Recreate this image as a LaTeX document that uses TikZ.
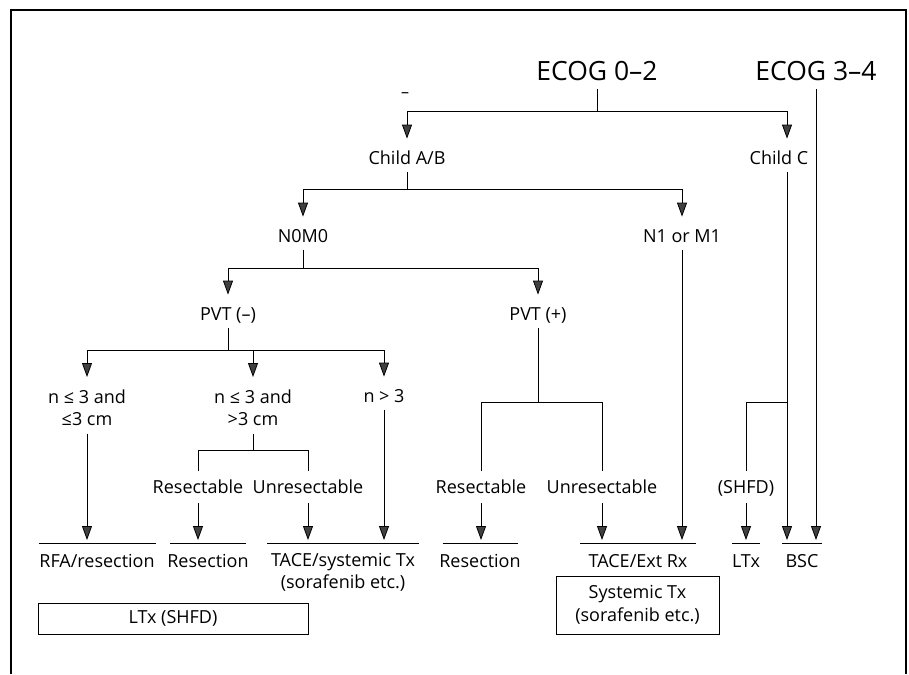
\documentclass[tikz,border=0pt]{standalone}
\usepackage{fontspec}
\setmainfont{Open Sans}
\usetikzlibrary{arrows.meta}
\definecolor{tipgray}{gray}{0.25}
\begin{document}
\begin{tikzpicture}[x=1pt,y=-1pt,
  line width=0.8pt,
  lbl/.style={anchor=base, inner xsep=1pt, inner ysep=0pt,
    text height=13pt, text depth=4pt, font=\fontsize{18}{22}\selectfont},
  twoline/.style={anchor=north, inner sep=0pt, align=center,
    font=\fontsize{18}{22}\selectfont},
  big/.style={anchor=base, inner sep=0pt, text height=18pt, text depth=4pt,
    font=\fontsize{26.5}{31}\selectfont},
  outcome/.style={anchor=north, inner xsep=0pt, inner ysep=11pt,
    text height=13pt, text depth=4pt, font=\fontsize{18}{22}\selectfont},
  outcome2/.style={anchor=north, inner xsep=0pt, inner ysep=9.5pt, align=center,
    font=\fontsize{18}{22.5}\selectfont},
  boxed/.style={draw, inner sep=0pt, align=center, font=\fontsize{18}{23.5}\selectfont},
  tip/.style={-{Triangle[length=14pt,width=10pt,fill=tipgray]}},
  arr/.style={tip, shorten >=12pt},
  arrout/.style={tip, shorten <=4pt, shorten >=3pt},
  stem/.style={shorten <=4pt},
  drop/.style={shorten >=9pt},
  uline/.style={line width=0.8pt},
  frame/.style={line width=1.3pt}
]
\useasboundingbox (0,0) rectangle (909,674);

% outer frame, open at the bottom
\draw[frame] (11,674) -- (11,10) -- (906,10) -- (906,674);

% performance status
\node[big] (e02) at (597,81) {ECOG 0–2};
\node[big] (e34) at (816,81) {ECOG 3–4};
\node[inner sep=0pt, font=\fontsize{16}{18}\selectfont] (dash) at (405,95) {–};

% liver function and spread
\node[lbl] (cab)  at (407,164) {Child A/B};
\node[lbl] (cc)   at (779,164) {Child C};
\node[lbl] (n0m0) at (303,242) {N0M0};
\node[lbl] (n1m1) at (682,242) {N1 or M1};
\node[lbl] (pvtm) at (228,320) {PVT (–)};
\node[lbl] (pvtp) at (538,320) {PVT (+)};

% tumour burden
\node[twoline] (s1) at (87,389)  {n ≤ 3 and\\≤3 cm};
\node[twoline] (s2) at (253,389) {n ≤ 3 and\\>3 cm};
\node[lbl]     (s3) at (384,402) {n > 3};

% resectability
\node[lbl] (res1)   at (198,493) {Resectable};
\node[lbl] (unres1) at (308,493) {Unresectable};
\node[lbl] (res2)   at (481,493) {Resectable};
\node[lbl] (unres2) at (602,493) {Unresectable};
\node[lbl] (shfd)   at (746,493) {(SHFD)};

% treatments
\node[outcome]  (rfa)    at (97,543)  {RFA/resection};
\node[outcome]  (resec1) at (208,543) {Resection};
\node[outcome2] (tace1)  at (343,543) {TACE/systemic Tx\\(sorafenib etc.)};
\node[outcome]  (resec2) at (480,543) {Resection};
\node[outcome]  (tace2)  at (638,543) {TACE/Ext Rx};
\node[outcome]  (ltx)    at (746,543) {LTx};
\node[outcome]  (bsc)    at (802,543) {BSC};

\draw[uline] ([xshift=-58.5pt]rfa.north)  -- ([xshift=58.5pt]rfa.north);
\draw[uline] ([xshift=-38pt]resec1.north) -- ([xshift=38pt]resec1.north);
\draw[uline] ([xshift=-76pt]tace1.north)  -- ([xshift=76pt]tace1.north);
\draw[uline] ([xshift=-37.5pt]resec2.north) -- ([xshift=37.5pt]resec2.north);
\draw[uline] ([xshift=-58pt]tace2.north)  -- ([xshift=58pt]tace2.north);
\draw[uline] ([xshift=-14pt]ltx.north)    -- ([xshift=14pt]ltx.north);
\draw[uline] ([xshift=-20pt]bsc.north)    -- ([xshift=20pt]bsc.north);

\node[boxed, minimum width=270pt, minimum height=31pt] (ltxbox) at (173,618.5) {LTx (SHFD)};
\node[boxed, minimum width=163pt, minimum height=58pt] (sysbox) at (637.5,605) {Systemic Tx\\(sorafenib etc.)};

% branch points and the Child C drop line, which sits right of its label
\coordinate (j0) at (597,111);
\coordinate (j1) at (407,189);
\coordinate (j2) at (303,268);
\coordinate (j3) at (228,350);
\coordinate (j4) at (253,450);
\coordinate (j5) at (538,402);
\coordinate (j6) at (787,402);
\coordinate (ccin)  at ([xshift=8pt]cc.north);
\coordinate (ccout) at ([xshift=8pt]cc.south);

% ECOG 0-2
\draw[stem] (e02.south) -- (j0);
\draw[arr] (j0) -| (cab.north);
\draw[arr] (j0) -| (ccin);

% Child A/B
\draw[stem] (cab.south) -- (j1);
\draw[arr] (j1) -| (n0m0.north);
\draw[arr] (j1) -| (n1m1.north);

% N0M0
\draw[stem] (n0m0.south) -- (j2);
\draw[arr] (j2) -| (pvtm.north);
\draw[arr] (j2) -| (pvtp.north);

% PVT (-)
\draw[stem] (pvtm.south) -- (j3);
\draw[arr] (j3) -| (s1.north);
\draw[arr] (s2.north |- j3) -- (s2.north);
\draw[arr] (j3) -| (s3.north);

\draw[arrout, shorten <=8pt] (s1.south) -- (s1.south |- rfa.north);
\draw[stem, shorten <=8pt] (s2.south) -- (j4);
\draw[drop] (j4) -| (res1.north);
\draw[drop] (j4) -| (unres1.north);
\draw[arrout, shorten <=6pt] (res1.south) -- (res1.south |- resec1.north);
\draw[arrout, shorten <=6pt] (unres1.south) -- (unres1.south |- tace1.north);
\draw[arrout] (s3.south) -- (s3.south |- tace1.north);

% PVT (+)
\draw[stem] (pvtp.south) -- (j5);
\draw[drop] (j5) -| (res2.north);
\draw[drop] (j5) -| (unres2.north);
\draw[arrout, shorten <=6pt] (res2.south) -- (res2.south |- resec2.north);
\draw[arrout, shorten <=6pt] (unres2.south) -- (unres2.south |- tace2.north);

% N1 or M1
\draw[arrout] (n1m1.south) -- (n1m1.south |- tace2.north);

% Child C
\draw[arrout] (ccout) -- (ccout |- bsc.north);
\draw[drop] (j6) -| (shfd.north);
\draw[arrout, shorten <=6pt] (shfd.south) -- (shfd.south |- ltx.north);

% ECOG 3-4
\draw[arrout] (e34.south) -- (e34.south |- bsc.north);
\end{tikzpicture}
\end{document}
